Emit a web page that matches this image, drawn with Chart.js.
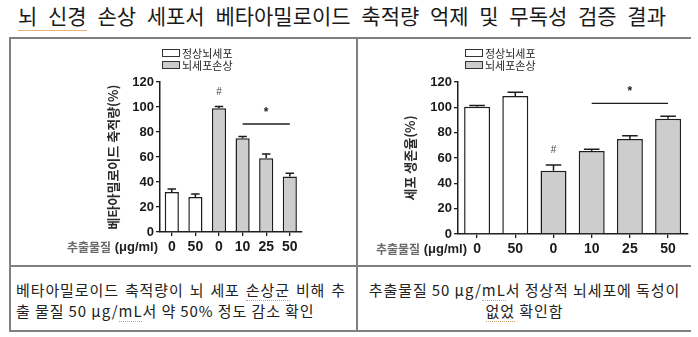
<!DOCTYPE html>
<html><head><meta charset="utf-8">
<script src="https://cdn.jsdelivr.net/npm/chart.js@4/dist/chart.umd.min.js"></script>
<style>
html,body{margin:0;padding:0;background:#fff;width:698px;height:337px;overflow:hidden;}
body{position:relative;font-family:"Noto Sans CJK KR","Noto Sans",sans-serif;color:#222;}
.ln{position:absolute;background:#808080;}
#title{position:absolute;left:18px;top:1px;font-size:21px;line-height:28px;white-space:nowrap;word-spacing:6px;color:#1a1a1a;}
#title .ul{border-bottom:1.5px solid #e9b27a;}
.cell{position:absolute;font-size:15px;line-height:21px;color:#222;letter-spacing:0.9px;}
.just{text-align:justify;text-align-last:justify;}
.sq{border-bottom:1px dotted #c9a070;}
canvas{position:absolute;}
</style></head>
<body>
<div id="title"><span class="ul">뇌 신경</span> 손상 세포서 베타아밀로이드 축적량 억제 및 무독성 검증 결과</div>
<div class="ln" style="left:9px;top:37px;width:682px;height:2px"></div>
<div class="ln" style="left:9px;top:265px;width:682px;height:1.5px"></div>
<div class="ln" style="left:9px;top:330px;width:682px;height:2px"></div>
<div class="ln" style="left:9px;top:37px;width:1.5px;height:295px"></div>
<div class="ln" style="left:356px;top:37px;width:1.5px;height:295px"></div>
<div class="cell" style="left:16px;top:279px;width:330px;">
  <div class="just">베타아밀로이드 축적량이 뇌 세포 <span class="sq">손상군</span> 비해 추</div>
  <div>출 물질 50 μg/<span class="sq">mL</span>서 약 50% 정도 감소 확인</div>
</div>
<div class="cell" style="left:358px;top:279px;width:333px;text-align:center;">
  <div>추출물질 50 μg/<span class="sq">mL</span>서 정상적 뇌세포에 독성이</div>
  <div><span class="sq">없었</span> 확인함</div>
</div>
<canvas id="c1" width="346" height="226" style="left:10px;top:39px;width:346px;height:226px"></canvas>
<canvas id="c2" width="333" height="226" style="left:358px;top:39px;width:333px;height:226px"></canvas>
<script>
// ---- data ----
const categories = ['0', '50', '0', '10', '25', '50'];
const seriesLabels = ['정상뇌세포', '뇌세포손상'];
const seriesOfBar = [0, 0, 1, 1, 1, 1];
const amyloidValues = [32, 28, 99, 75, 59, 44.5];
const amyloidErrors = [2.5, 2.5, 1.5, 1.5, 3.5, 2.5];
const viabilityValues = [100.5, 109, 50, 65.5, 75, 91];
const viabilityErrors = [1, 3, 4.5, 1.5, 2.5, 2];
const yTickValues = [0, 20, 40, 60, 80, 100, 120];
const xAxisLabelMain = '추출물질';
const xAxisLabelUnit = ' (μg/ml)';
const amyloidTitle = '베타아밀로이드 축적량(%)';
const viabilityTitle = '세포 생존율(%)';

const fills = ['#ffffff', '#cdcdcd'];
const INK = '#1e1e1e';

function splitSeries(values, s) {
  return values.map((v, i) => seriesOfBar[i] === s ? v : null);
}

const extrasPlugin = {
  id: 'extras',
  afterDatasetsDraw(chart, args, o) {
    const ctx = chart.ctx;
    const xs = chart.scales.x, ys = chart.scales.y;
    const ca = chart.chartArea;
    ctx.save();
    // error bars
    chart.data.datasets.forEach((ds, di) => {
      const meta = chart.getDatasetMeta(di);
      meta.data.forEach((bar, i) => {
        const v = ds.data[i];
        if (v == null) return;
        const e = o.errors[i];
        const x = bar.x;
        const y0 = ys.getPixelForValue(v);
        const y1 = ys.getPixelForValue(v + e);
        const hw = bar.width * 0.3;
        ctx.strokeStyle = INK;
        ctx.lineWidth = 1.5;
        ctx.beginPath();
        ctx.moveTo(x, y0); ctx.lineTo(x, y1);
        ctx.moveTo(x - hw, y1); ctx.lineTo(x + hw, y1);
        ctx.stroke();
      });
    });
    // significance marks
    ctx.fillStyle = '#444';
    ctx.font = '10px "Liberation Sans", Arial, sans-serif';
    ctx.textAlign = 'center'; ctx.textBaseline = 'middle';
    ctx.fillText('#', xs.getPixelForValue(o.hashIndex), ys.getPixelForValue(o.hashValue));
    const xa = xs.getPixelForValue(o.sigFrom), xb = xs.getPixelForValue(o.sigTo);
    const yl = ys.getPixelForValue(o.sigLine);
    ctx.strokeStyle = INK; ctx.lineWidth = 1.3;
    ctx.beginPath(); ctx.moveTo(xa, yl); ctx.lineTo(xb, yl); ctx.stroke();
    ctx.fillStyle = INK;
    ctx.font = 'bold 12px "Liberation Sans", Arial, sans-serif';
    ctx.fillText('*', (xa + xb) / 2, ys.getPixelForValue(o.sigStar) + 2);
    // legend
    const lx = ca.left + o.legendDX;
    chart.data.datasets.forEach((ds, di) => {
      const ty = o.legendTop + di * o.legendGap;
      ctx.fillStyle = ds.backgroundColor;
      ctx.fillRect(lx, ty, 18, 8);
      ctx.strokeStyle = '#333'; ctx.lineWidth = 1;
      ctx.strokeRect(lx + 0.5, ty + 0.5, 17, 7);
      ctx.fillStyle = '#222';
      ctx.font = '11px "Noto Sans CJK KR", sans-serif';
      ctx.textAlign = 'left';
      ctx.fillText(ds.label, lx + 20, ty + 4.5);
    });
    // x axis caption left of tick labels
    const cy = ca.bottom + 15;
    const rx = ca.left + o.captionDX;
    ctx.textAlign = 'right';
    ctx.font = 'bold 13px "Liberation Sans", Arial, sans-serif';
    ctx.fillStyle = '#222';
    ctx.fillText(xAxisLabelUnit, rx, cy);
    const uw = ctx.measureText(xAxisLabelUnit).width;
    ctx.font = 'bold 12px "Noto Sans CJK KR", sans-serif';
    ctx.fillStyle = '#6a6a6a';
    ctx.fillText(xAxisLabelMain, rx - uw, cy);
    ctx.restore();
  }
};

function makeChart(id, values, errors, title, opt) {
  return new Chart(document.getElementById(id), {
    type: 'bar',
    data: {
      labels: categories,
      datasets: seriesLabels.map((lab, s) => ({
        label: lab,
        data: splitSeries(values, s),
        backgroundColor: fills[s],
        borderColor: INK,
        borderWidth: 1.5,
        borderSkipped: 'bottom',
        barPercentage: opt.barPct,
        categoryPercentage: 1,
        grouped: false
      }))
    },
    options: {
      responsive: false,
      animation: false,
      events: [],
      layout: { padding: { top: 43, left: 0, right: opt.padRight, bottom: 0 } },
      plugins: {
        legend: { display: false },
        tooltip: { enabled: false },
        extras: Object.assign({ errors }, opt.extras)
      },
      scales: {
        x: {
          offset: true,
          afterFit(s) { s.height = opt.xHeight; },
          grid: { display: true, offset: false, drawOnChartArea: false, drawTicks: true, tickLength: 4, color: INK, lineWidth: 1.3 },
          border: { display: true, color: INK, width: 1.5 },
          ticks: { color: '#1a1a1a', padding: 3, font: { family: '"Liberation Sans", Arial, sans-serif', size: 14, weight: 'bold' } }
        },
        y: {
          min: 0, max: 120,
          afterFit(s) { s.width = opt.yWidth; },
          afterBuildTicks(s) { s.ticks = yTickValues.map(v => ({ value: v })); },
          grid: { display: true, drawOnChartArea: false, drawTicks: true, tickLength: 4, color: INK, lineWidth: 1.3 },
          border: { display: true, color: INK, width: 1.5 },
          ticks: { color: '#1a1a1a', padding: 2, font: { family: '"Liberation Sans", Arial, sans-serif', size: 13, weight: 'bold' } },
          title: {
            display: true, text: title, color: '#2a2a2a',
            padding: { top: opt.titlePad, bottom: 0 },
            font: { family: '"Noto Sans CJK KR", sans-serif', size: 13, weight: 'bold' }
          }
        }
      }
    },
    plugins: [extrasPlugin]
  });
}

makeChart('c1', amyloidValues, amyloidErrors, amyloidTitle, {
  barPct: 0.6, padRight: 54.4, xHeight: 33, yWidth: 150, titlePad: 95.2,
  extras: { hashIndex: 2, hashValue: 112, sigFrom: 3, sigTo: 5, sigLine: 86.4, sigStar: 97,
            legendDX: 2, legendTop: 10, legendGap: 12, captionDX: -2 }
});
makeChart('c2', viabilityValues, viabilityErrors, viabilityTitle, {
  barPct: 0.68, padRight: 3.8, xHeight: 31, yWidth: 100, titlePad: 44.2,
  extras: { hashIndex: 2, hashValue: 66, sigFrom: 3, sigTo: 5, sigLine: 103.2, sigStar: 114,
            legendDX: 7, legendTop: 10, legendGap: 12, captionDX: 9 }
});
</script>
</body></html>
